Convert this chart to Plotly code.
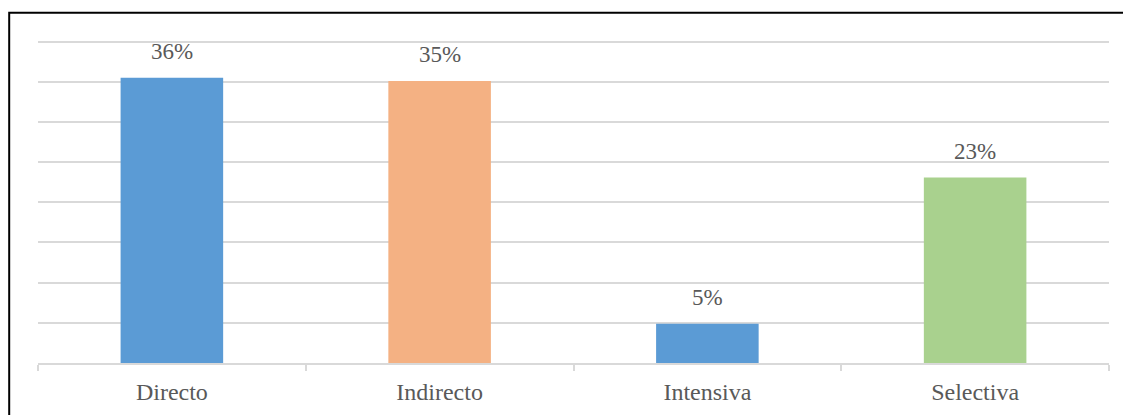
import plotly.graph_objects as go

categories = ["Directo", "Indirecto", "Intensiva", "Selectiva"]
values = [35.5, 35.1, 4.9, 23.1]
bar_colors = ["#5B9BD5", "#F4B183", "#5B9BD5", "#A9D18E"]

text_color = "#595959"
grid_color = "#D9D9D9"
font_family = "Liberation Serif"

# page body has an 8px default margin, so the figure is a bit smaller than the window
fig_w, fig_h = 1123, 407
m_l, m_r, m_t, m_b = 30, 22, 32, 52
plot_w = fig_w - m_l - m_r
plot_h = fig_h - m_t - m_b

fig = go.Figure()
fig.add_trace(
    go.Bar(
        x=categories,
        y=values,
        marker=dict(color=bar_colors, line=dict(width=0)),
        hoverinfo="x+y",
    )
)

# percentage labels above each bar
for cat, val in zip(categories, values):
    fig.add_annotation(
        x=cat,
        y=val,
        text=f"{round(val)}%",
        showarrow=False,
        yanchor="middle",
        yshift=26,
        font=dict(family=font_family, size=23, color=text_color),
    )

# black frame around the chart (only top/left edges fall inside the picture)
fig.add_shape(
    type="rect",
    xref="paper",
    yref="paper",
    x0=(1.2 - m_l) / plot_w,
    x1=1.1,
    y0=-0.4,
    y1=(plot_h + m_t - 4.8) / plot_h,
    line=dict(color="black", width=2),
    layer="above",
)

fig.update_layout(
    width=fig_w,
    height=fig_h,
    margin=dict(l=m_l, r=m_r, t=m_t, b=m_b),
    paper_bgcolor="white",
    plot_bgcolor="white",
    bargap=0.617,
    showlegend=False,
    font=dict(family=font_family, size=23, color=text_color),
)
fig.update_xaxes(
    automargin=False,
    showline=True,
    linecolor=grid_color,
    linewidth=1.5,
    ticks="outside",
    tickson="boundaries",
    ticklen=6,
    tickwidth=1.5,
    tickcolor=grid_color,
    ticklabelstandoff=6,
    tickfont=dict(family=font_family, size=24, color=text_color),
    showgrid=False,
)
fig.update_yaxes(
    automargin=False,
    range=[0, 40.2],
    tickvals=[5, 10, 15, 20, 25, 30, 35, 40],
    showgrid=True,
    gridcolor=grid_color,
    gridwidth=1.5,
    showticklabels=False,
    zeroline=False,
    showline=False,
)

fig.write_html("out.html")
